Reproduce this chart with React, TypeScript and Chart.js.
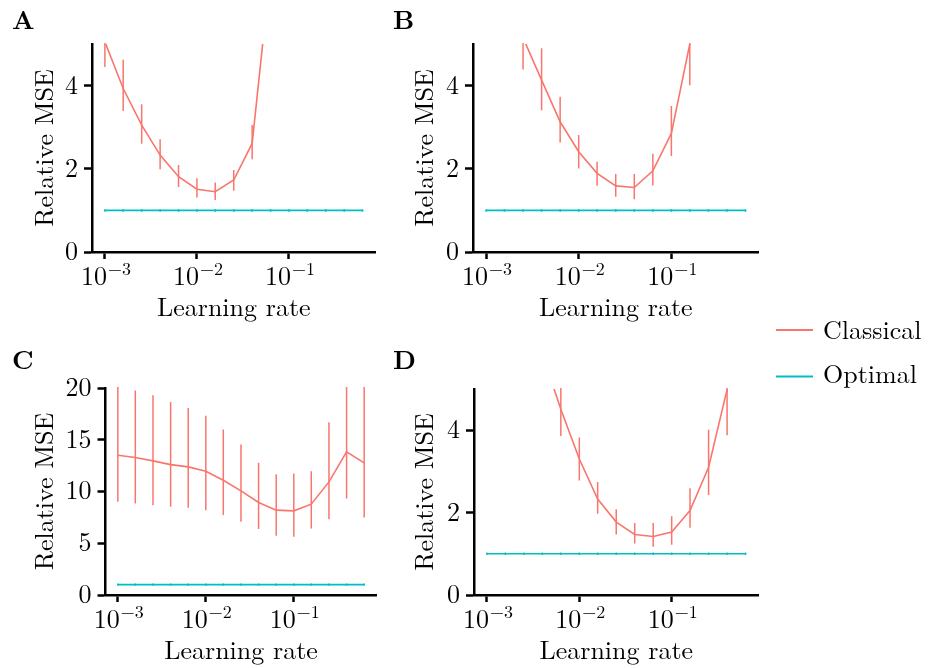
import React, { useEffect, useRef } from 'react';
import { Chart, registerables } from 'chart.js';

Chart.register(...registerables);

// ---------- data ----------
const learningRates = [0.001, 0.00158, 0.00251, 0.00398, 0.00631, 0.01, 0.0158, 0.0251, 0.0398, 0.0631, 0.1, 0.158, 0.251, 0.398, 0.631];

const classicalA = [5.05, 3.93, 3.05, 2.33, 1.81, 1.51, 1.45, 1.73, 2.61, 6.8, 12, 20, 30, 45, 60];
const classicalLoA = [4.45, 3.39, 2.6, 1.99, 1.56, 1.31, 1.25, 1.47, 2.23, 5.8, 10, 17, 26, 39, 52];
const classicalHiA = [5.7, 4.62, 3.55, 2.71, 2.09, 1.77, 1.67, 1.97, 3.05, 7.9, 14, 23, 35, 52, 70];

const classicalB = [8.0, 6.5, 5.15, 4.13, 3.13, 2.41, 1.89, 1.59, 1.55, 1.95, 2.85, 5.0, 9, 15, 25];
const classicalLoB = [6.8, 5.6, 4.39, 3.41, 2.63, 2.01, 1.59, 1.33, 1.27, 1.6, 2.31, 4.01, 7.5, 12.5, 21];
const classicalHiB = [9.5, 7.6, 5.9, 4.9, 3.73, 2.81, 2.17, 1.875, 1.875, 2.36, 3.51, 6.0, 11, 18, 30];

const classicalC = [13.5, 13.28, 12.96, 12.6, 12.38, 11.96, 11.09, 10.06, 8.94, 8.2, 8.13, 8.78, 10.93, 13.83, 12.77];
const classicalLoC = [9.0, 8.84, 8.68, 8.52, 8.42, 8.2, 7.72, 7.07, 6.37, 5.72, 5.63, 6.43, 7.33, 9.32, 7.49];
const classicalHiC = [20.1, 19.77, 19.29, 18.65, 18.07, 17.33, 15.98, 14.53, 12.77, 11.67, 11.74, 11.96, 16.69, 20.5, 20.5];

const classicalD = [12, 9.5, 7.5, 5.84, 4.51, 3.3, 2.33, 1.77, 1.47, 1.42, 1.53, 2.05, 3.1, 4.99, 8.0];
const classicalLoD = [10, 8, 6.3, 5.1, 3.86, 2.78, 1.97, 1.47, 1.25, 1.17, 1.22, 1.63, 2.43, 3.88, 6.5];
const classicalHiD = [14, 11, 8.8, 6.7, 5.2, 3.82, 2.74, 2.08, 1.75, 1.75, 1.91, 2.59, 4.01, 6.1, 9.5];

const optimal = [1, 1, 1, 1, 1, 1, 1, 1, 1, 1, 1, 1, 1, 1, 1];
const optimalLo = [0.97, 0.97, 0.97, 0.97, 0.97, 0.97, 0.97, 0.97, 0.97, 0.97, 0.97, 0.97, 0.97, 0.97, 0.97];
const optimalHi = [1.03, 1.03, 1.03, 1.03, 1.03, 1.03, 1.03, 1.03, 1.03, 1.03, 1.03, 1.03, 1.03, 1.03, 1.03];
const optimalLoC = [0.9, 0.9, 0.9, 0.9, 0.9, 0.9, 0.9, 0.9, 0.9, 0.9, 0.9, 0.9, 0.9, 0.9, 0.9];
const optimalHiC = [1.1, 1.1, 1.1, 1.1, 1.1, 1.1, 1.1, 1.1, 1.1, 1.1, 1.1, 1.1, 1.1, 1.1, 1.1];

const xTickValues = [0.001, 0.01, 0.1];
const xTickBase = '10';
const xTickExponents = ['\u22123', '\u22122', '\u22121'];
const yTicksSmall = [0, 2, 4];
const yTicksLarge = [0, 5, 10, 15, 20];
const xLimits = [0.000724, 0.871];
const seriesNames = ['Classical', 'Optimal'];
const xTitle = 'Learning rate';
const yTitle = 'Relative MSE';

// ---------- styles ----------
const FONT = "'Latin Modern Roman', 'Liberation Serif', serif";
const RED = '#F8766D';
const CYAN = '#00BFC4';

const errorBarPlugin = {
  id: 'errorBars',
  afterDatasetsDraw(chart: any) {
    const { ctx, chartArea, scales } = chart;
    const x = scales.x;
    const y = scales.y;
    ctx.save();
    ctx.beginPath();
    ctx.rect(chartArea.left, chartArea.top - 1, chartArea.right - chartArea.left, chartArea.bottom - chartArea.top + 1);
    ctx.clip();
    chart.data.datasets.forEach((ds: any) => {
      if (!ds.errLo) return;
      ctx.strokeStyle = ds.borderColor;
      ctx.lineWidth = 1.5;
      ds.data.forEach((p: any, i: number) => {
        const px = x.getPixelForValue(p.x);
        ctx.beginPath();
        ctx.moveTo(px, y.getPixelForValue(ds.errLo[i]));
        ctx.lineTo(px, y.getPixelForValue(ds.errHi[i]));
        ctx.stroke();
      });
    });
    ctx.restore();
  },
};

const panelTextPlugin = {
  id: 'panelText',
  afterDraw(chart: any, _args: any, opts: any) {
    const { ctx, chartArea, scales } = chart;
    const x = scales.x;
    ctx.save();
    ctx.fillStyle = '#000';
    ctx.textBaseline = 'alphabetic';
    // x tick labels: 10^{-k}
    ctx.textAlign = 'left';
    xTickValues.forEach((v, i) => {
      const px = x.getPixelForValue(v);
      ctx.font = `26px ${FONT}`;
      const w1 = ctx.measureText(xTickBase).width;
      ctx.font = `18px ${FONT}`;
      const w2 = ctx.measureText(xTickExponents[i]).width;
      const gap = 1;
      const x0 = px - (w1 + gap + w2) / 2 + 1;
      const base = chartArea.bottom + 33;
      ctx.font = `26px ${FONT}`;
      ctx.fillText(xTickBase, x0, base);
      ctx.font = `18px ${FONT}`;
      ctx.fillText(xTickExponents[i], x0 + w1 + gap, base - 10);
    });
    // axis titles
    ctx.font = `26px ${FONT}`;
    ctx.textAlign = 'center';
    ctx.fillText(xTitle, (chartArea.left + chartArea.right) / 2, chartArea.bottom + 64);
    ctx.save();
    ctx.translate(53, (chartArea.top + chartArea.bottom) / 2);
    ctx.rotate(-Math.PI / 2);
    ctx.fillText(yTitle, 0, 0);
    ctx.restore();
    // panel letter
    ctx.font = `bold 26px ${FONT}`;
    ctx.textAlign = 'left';
    ctx.fillText(opts.letter, opts.letterX, opts.letterY);
    ctx.restore();
  },
};

type PanelProps = {
  letter: string;
  left: number;
  top: number;
  width: number;
  height: number;
  area: { left: number; right: number; top: number; bottom: number };
  yMax: number;
  yTicks: number[];
  mean: number[];
  lo: number[];
  hi: number[];
  optLo: number[];
  optHi: number[];
};

function Panel(props: PanelProps) {
  const ref = useRef<HTMLCanvasElement | null>(null);
  useEffect(() => {
    const { width, height, area, yMax, yTicks, mean, lo, hi, optLo, optHi, letter } = props;
    const chart = new Chart(ref.current as HTMLCanvasElement, {
      type: 'line',
      data: {
        datasets: [
          {
            label: seriesNames[0],
            data: learningRates.map((x, i) => ({ x, y: mean[i] })),
            borderColor: RED,
            backgroundColor: RED,
            borderWidth: 1.6,
            pointRadius: 0,
            tension: 0,
            errLo: lo,
            errHi: hi,
          } as any,
          {
            label: seriesNames[1],
            data: learningRates.map((x, i) => ({ x, y: optimal[i] })),
            borderColor: CYAN,
            backgroundColor: CYAN,
            borderWidth: 1.6,
            pointRadius: 0,
            tension: 0,
            errLo: optLo,
            errHi: optHi,
          } as any,
        ],
      },
      options: {
        animation: false,
        responsive: false,
        maintainAspectRatio: false,
        devicePixelRatio: 1,
        events: [],
        layout: { padding: { left: 0, top: area.top, right: width - area.right, bottom: 0 } },
        plugins: {
          legend: { display: false },
          tooltip: { enabled: false },
          panelText: { letter, letterX: props.left === 0 ? 12 : 13, letterY: 29 },
        },
        scales: {
          x: {
            type: 'logarithmic',
            position: 'bottom',
            min: xLimits[0],
            max: xLimits[1],
            afterBuildTicks: (s: any) => {
              s.ticks = xTickValues.map((v) => ({ value: v }));
            },
            afterFit: (s: any) => {
              s.height = height - area.bottom;
            },
            ticks: { display: false },
            grid: {
              display: true,
              drawOnChartArea: false,
              drawTicks: true,
              tickLength: 7,
              tickWidth: 2.5,
              tickColor: '#000',
            },
            border: { display: true, color: '#000', width: 2.5 },
            title: { display: false },
          },
          y: {
            type: 'linear',
            position: 'left',
            min: 0,
            max: yMax,
            afterBuildTicks: (s: any) => {
              s.ticks = yTicks.map((v) => ({ value: v }));
            },
            afterFit: (s: any) => {
              s.width = area.left;
            },
            ticks: {
              color: '#000',
              font: { family: FONT, size: 26 },
              padding: 6,
              callback: (v: any) => String(v),
            },
            grid: {
              display: true,
              drawOnChartArea: false,
              drawTicks: true,
              tickLength: 8,
              tickWidth: 2.5,
              tickColor: '#000',
            },
            border: { display: true, color: '#000', width: 2.5 },
            title: { display: false },
          },
        },
      } as any,
      plugins: [errorBarPlugin, panelTextPlugin],
    });
    return () => chart.destroy();
  }, []);

  return (
    <canvas
      ref={ref}
      width={props.width}
      height={props.height}
      style={{ position: 'absolute', left: props.left, top: props.top, width: props.width, height: props.height, display: 'block' }}
    />
  );
}

function Legend() {
  const ref = useRef<HTMLCanvasElement | null>(null);
  useEffect(() => {
    const c = ref.current as HTMLCanvasElement;
    const ctx = c.getContext('2d') as CanvasRenderingContext2D;
    const items = [
      { label: seriesNames[0], color: RED, lineY: 30, baseline: 39 },
      { label: seriesNames[1], color: CYAN, lineY: 76.5, baseline: 83 },
    ];
    ctx.clearRect(0, 0, c.width, c.height);
    items.forEach((it) => {
      ctx.strokeStyle = it.color;
      ctx.lineWidth = 2;
      ctx.beginPath();
      ctx.moveTo(16, it.lineY);
      ctx.lineTo(53, it.lineY);
      ctx.stroke();
      ctx.fillStyle = '#000';
      ctx.font = `26px ${FONT}`;
      ctx.textBaseline = 'alphabetic';
      ctx.textAlign = 'left';
      ctx.fillText(it.label, 63, it.baseline);
    });
  }, []);
  return (
    <canvas ref={ref} width={169} height={110} style={{ position: 'absolute', left: 760, top: 300, width: 169, height: 110, display: 'block' }} />
  );
}

export default function App() {
  return (
    <div style={{ position: 'absolute', left: 0, top: 0, width: 929, height: 668, background: '#fff', overflow: 'hidden' }}>
      <Panel letter="A" left={0} top={0} width={380} height={340}
        area={{ left: 92, right: 375.5, top: 44, bottom: 252 }}
        yMax={5} yTicks={yTicksSmall}
        mean={classicalA} lo={classicalLoA} hi={classicalHiA} optLo={optimalLo} optHi={optimalHi} />
      <Panel letter="B" left={380} top={0} width={380} height={340}
        area={{ left: 93, right: 378.5, top: 44, bottom: 252 }}
        yMax={5} yTicks={yTicksSmall}
        mean={classicalB} lo={classicalLoB} hi={classicalHiB} optLo={optimalLo} optHi={optimalHi} />
      <Panel letter="C" left={0} top={340} width={380} height={328}
        area={{ left: 105.5, right: 376.5, top: 48, bottom: 255 }}
        yMax={20} yTicks={yTicksLarge}
        mean={classicalC} lo={classicalLoC} hi={classicalHiC} optLo={optimalLoC} optHi={optimalHiC} />
      <Panel letter="D" left={380} top={340} width={380} height={328}
        area={{ left: 94, right: 378.5, top: 49, bottom: 255 }}
        yMax={5} yTicks={yTicksSmall}
        mean={classicalD} lo={classicalLoD} hi={classicalHiD} optLo={optimalLo} optHi={optimalHi} />
      <Legend />
    </div>
  );
}
